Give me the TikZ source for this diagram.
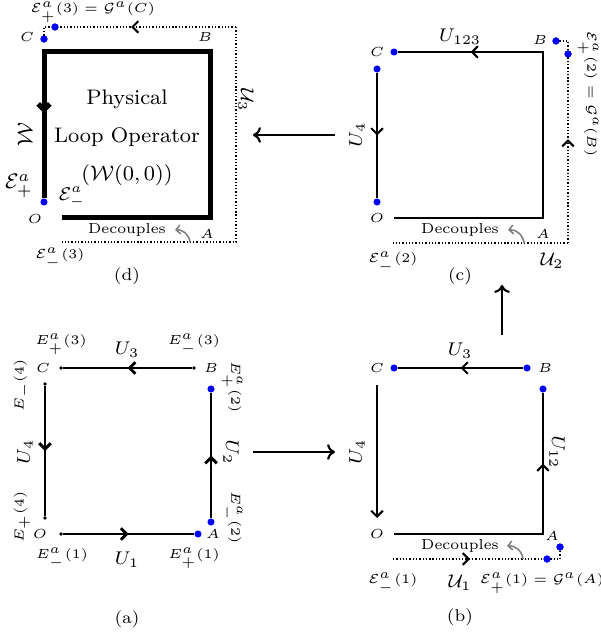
\documentclass[tikz,border=0pt]{standalone}
\usetikzlibrary{arrows.meta,decorations.markings}
\DeclareMathSizes{5.5}{5.5}{5}{5}
\DeclareMathSizes{4.6}{4.6}{4.2}{4.2}
\tikzset{
  bdot/.style={circle, fill=blue, inner sep=0pt, minimum size=2.7pt},
  kdot/.style={circle, fill=black, inner sep=0pt, minimum size=1.4pt},
  ptlabel/.style={font=\fontsize{5.5}{6.5}\selectfont, inner sep=1pt},
  eplabel/.style={font=\fontsize{4.6}{5.5}\selectfont, inner sep=0.5pt},
  caplabel/.style={font=\fontsize{6.5}{8}\selectfont, inner sep=1pt},
  oplabel/.style={font=\scriptsize, inner sep=1pt},
  midarrow/.style={postaction={decorate}, decoration={markings,
      mark=at position #1 with {\arrow{Straight Barb[length=2.2pt,width=4.4pt]}}}},
  midarrow/.default=0.5,
  loopA/.style={line width=1.1pt},
  loopB/.style={line width=0.8pt},
  wloop/.style={line width=1.9pt},
  gaugepath/.style={line width=0.8pt, dash pattern=on 0.5pt off 0.75pt},
  decarrow/.style={gray, line width=0.6pt, -{Straight Barb[length=1.6pt,width=3.4pt]}},
  panelarrow/.style={line width=0.8pt, -{To[length=3pt,width=6pt]}},
}
\begin{document}
\begin{tikzpicture}[x=0.38pt, y=-0.38pt]
\useasboundingbox (0,0) rectangle (600,634);

% (a) 格子上のループ
\node[ptlabel] (aOl) at (40,534)  {$O$};
\node[ptlabel] (aAl) at (213,534) {$A$};
\node[ptlabel] (aBl) at (211,368) {$B$};
\node[ptlabel] (aCl) at (43,368)  {$C$};
\node[kdot] (aO1) at (61,534)  {};
\node[bdot] (aA1) at (198,534) {};
\node[bdot] (aA2) at (211,522) {};
\node[bdot] (aB2) at (211,389) {};
\node[kdot] (aB3) at (194,368) {};
\node[kdot] (aC3) at (61,368)  {};
\node[kdot] (aC4) at (45,384)  {};
\node[kdot] (aO4) at (45,518)  {};
\draw[loopA, midarrow] (aO1) -- (aA1);
\draw[loopA, midarrow] (aA2) -- (aB2);
\draw[loopA, midarrow] (aB3) -- (aC3);
\draw[loopA, midarrow] (aC4) -- (aO4);
\node[oplabel] (aU1) at (127,560) {$U_1$};
\node[oplabel] (aU3) at (127,350) {$U_3$};
\node[oplabel, rotate=90]  (aU4) at (25,452)  {$U_4$};
\node[oplabel, rotate=-90] (aU2) at (231,452) {$U_2$};
\node[ptlabel] (aEm1) at (62,558)  {$E^a_-(1)$};
\node[ptlabel] (aEp1) at (194,558) {$E^a_+(1)$};
\node[ptlabel] (aEp3) at (61,344)  {$E^a_+(3)$};
\node[ptlabel] (aEm3) at (194,344) {$E^a_-(3)$};
\node[ptlabel, rotate=90]  (aEm4) at (22,385)  {$E_-(4)$};
\node[ptlabel, rotate=90]  (aEp4) at (22,517)  {$E_+(4)$};
\node[ptlabel, rotate=-90] (aEp2) at (232,387) {$E^a_+(2)$};
\node[ptlabel, rotate=-90] (aEm2) at (232,518) {$E^a_-(2)$};
\node[caplabel] (acap) at (127,619) {(a)};

% (b)
\node[ptlabel] (bCl) at (377,368) {$C$};
\node[ptlabel] (bBl) at (545,368) {$B$};
\node[ptlabel] (bOl) at (377,534) {$O$};
\node[ptlabel] (bAl) at (552,536) {$A$};
\node[bdot] (bC3) at (394,368) {};
\node[bdot] (bB3) at (527,368) {};
\node[bdot] (bB2) at (543,389) {};
\coordinate (bC4) at (377,385);
\coordinate (bO4) at (377,518);
\coordinate (bO1) at (394,534);
\coordinate (bA)  at (543,534);
\draw[loopB, midarrow] (bB3) -- (bC3);
\draw[loopB, -{Straight Barb[length=2.2pt,width=4.4pt]}] (bC4) -- (bO4);
\draw[loopB] (bO1) -- (bA) -- (bB2);
\draw[loopB, midarrow] (bA) -- (bB2);
\node[oplabel] (bU3) at (460,351) {$U_3$};
\node[oplabel, rotate=90]  (bU4)  at (357,452) {$U_4$};
\node[oplabel, rotate=-90] (bU12) at (557,452) {$U_{12}$};
\node[bdot] (bAp) at (560,547) {};
\node[bdot] (bAm) at (547,559) {};
\coordinate (bG0) at (393,559);
\coordinate (bG1) at (560,559);
\draw[gaugepath, midarrow] (bG0) -- (bAm.center);
\draw[gaugepath] (bAm.center) -- (bG1) -- (bAp.center);
\node[bdot] at (bAm) {};
\node[bdot] at (bAp) {};
\node[ptlabel] (bdec) at (460,546) {Decouples};
\coordinate (bdS) at (523,559);
\coordinate (bdE) at (507,546);
\draw[decarrow] (bdS) to[bend right=45] (bdE);
\node[eplabel] (bEm1) at (393,583) {$\mathcal{E}^a_-(1)$};
\node[oplabel] (bU1)  at (460,583) {$\mathcal{U}_1$};
\node[eplabel] (bEp1) at (542,583) {$\mathcal{E}^a_+(1) = \mathcal{G}^a(A)$};
\node[caplabel] (bcap) at (460,617) {(b)};

% (c)
\node[ptlabel] (cCl) at (377,52)  {$C$};
\node[ptlabel] (cOl) at (377,218) {$O$};
\node[ptlabel] (cBl) at (540,40)  {$B$};
\node[ptlabel] (cAl) at (543,234) {$A$};
\node[bdot] (cC3) at (394,52)  {};
\node[bdot] (cC4) at (377,69)  {};
\node[bdot] (cO4) at (377,202) {};
\coordinate (cB)  at (543,52);
\coordinate (cA)  at (543,218);
\coordinate (cO1) at (394,218);
\draw[loopB] (cC3) -- (cB) -- (cA) -- (cO1);
\draw[loopB, midarrow] (cB) -- (cC3);
\draw[loopB, midarrow] (cC4) -- (cO4);
\node[oplabel] (cU123) at (460,37) {$U_{123}$};
\node[oplabel, rotate=90] (cU4) at (357,135) {$U_4$};
\node[bdot] (cBm) at (556,41) {};
\node[bdot] (cBp) at (568,54) {};
\coordinate (cG1) at (568,41);
\coordinate (cG2) at (568,243);
\coordinate (cG3) at (393,243);
\draw[gaugepath] (cBm.center) -- (cG1) -- (cBp.center);
\draw[gaugepath, midarrow=0.55] (cG2) -- (cBp.center);
\draw[gaugepath] (cG2) -- (cG3);
\node[bdot] at (cBm) {};
\node[bdot] at (cBp) {};
\node[eplabel, rotate=-90] (cEp2) at (588,94) {$\mathcal{E}^a_+(2) = \mathcal{G}^a(B)$};
\node[ptlabel] (cdec) at (460,230) {Decouples};
\coordinate (cdS) at (524,243);
\coordinate (cdE) at (508,230);
\draw[decarrow] (cdS) to[bend right=45] (cdE);
\node[eplabel] (cEm2) at (393,262) {$\mathcal{E}^a_-(2)$};
\node[oplabel] (cU2)  at (552,261) {$\mathcal{U}_2$};
\node[caplabel] (ccap) at (460,276) {(c)};

% (d) 物理的ループ演算子
\node[ptlabel] (dCl) at (27,37)  {$C$};
\node[ptlabel] (dBl) at (205,37) {$B$};
\node[ptlabel] (dOl) at (35,219) {$O$};
\node[ptlabel] (dAl) at (207,234) {$A$};
\node[bdot] (dCm) at (44,39) {};
\node[bdot] (dCp) at (55,27) {};
\coordinate (dG0) at (44,27);
\coordinate (dG1) at (236,27);
\coordinate (dG2) at (236,242);
\coordinate (dG3) at (60,242);
\draw[gaugepath] (dCm.center) -- (dG0) -- (dCp.center);
\draw[gaugepath, midarrow=0.58] (dG1) -- (dCp.center);
\draw[gaugepath] (dG1) -- (dG2) -- (dG3);
\node[bdot] at (dCm) {};
\node[bdot] at (dCp) {};
\coordinate (dC)  at (44,52);
\coordinate (dB)  at (210,52);
\coordinate (dA)  at (210,218);
\coordinate (dO1) at (62,218);
\node[bdot] (dO) at (44,202) {};
\draw[wloop] (dO) -- (dC) -- (dB) -- (dA) -- (dO1);
\draw[wloop, midarrow=0.42] (dC) -- (dO);
\node[font=\fontsize{8}{14.5}\selectfont, align=center] (dtxt) at (127,138)
  {Physical\\Loop Operator\\($\mathcal{W}(0,0)$)};
\node[font=\footnotesize, rotate=90] (dW) at (25,135) {$\mathcal{W}$};
\node[font=\footnotesize] (dEp) at (19,186) {$\mathcal{E}^a_+$};
\node[font=\scriptsize]   (dEm) at (72,197) {$\mathcal{E}^a_-$};
\node[oplabel, rotate=-90] (dU3) at (246,100) {$\mathcal{U}_3$};
\node[ptlabel] (ddec) at (127,230) {Decouples};
\coordinate (ddS) at (190,242);
\coordinate (ddE) at (175,230);
\draw[decarrow] (ddS) to[bend right=45] (ddE);
\node[eplabel] (dEp3) at (93,12)  {$\mathcal{E}^a_+(3) = \mathcal{G}^a(C)$};
\node[eplabel] (dEm3) at (60,258) {$\mathcal{E}^a_-(3)$};
\node[caplabel] (dcap) at (127,276) {(d)};

% パネル間の矢印
\coordinate (ab0) at (253,452);
\coordinate (ab1) at (335,452);
\coordinate (bc0) at (502,335);
\coordinate (bc1) at (502,285);
\coordinate (cd0) at (335,135);
\coordinate (cd1) at (253,135);
\draw[panelarrow] (ab0) -- (ab1);
\draw[panelarrow] (bc0) -- (bc1);
\draw[panelarrow] (cd0) -- (cd1);
\end{tikzpicture}
\end{document}
